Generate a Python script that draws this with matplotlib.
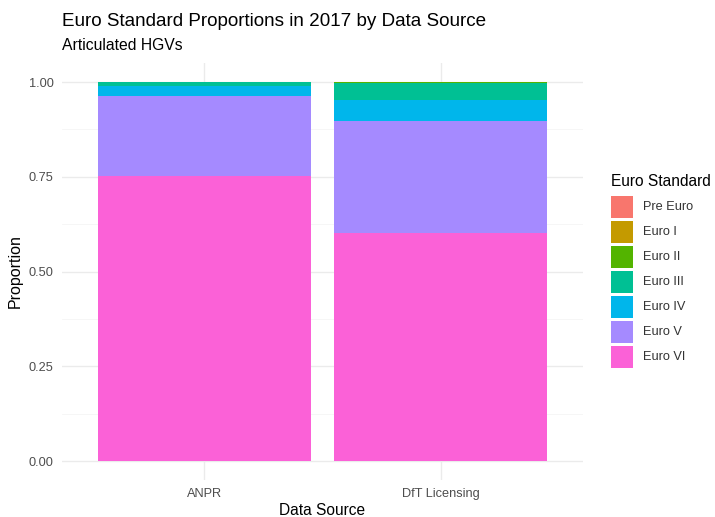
import numpy as np
import matplotlib.pyplot as plt
from matplotlib.patches import Rectangle

plt.rcParams['font.family'] = ['Liberation Sans', 'DejaVu Sans']

sources = ['ANPR', 'DfT Licensing']
standards = ['Pre Euro', 'Euro I', 'Euro II', 'Euro III', 'Euro IV', 'Euro V', 'Euro VI']
colors = ['#F8766D', '#C49A00', '#53B400', '#00C094', '#00B6EB', '#A58AFF', '#FB61D7']

# proportions per standard: [ANPR, DfT Licensing]
pre_euro = [0.000, 0.000]
euro_1 = [0.000, 0.001]
euro_2 = [0.001, 0.002]
euro_3 = [0.009, 0.045]
euro_4 = [0.027, 0.054]
euro_5 = [0.211, 0.296]
euro_6 = [0.752, 0.602]

values = np.array([pre_euro, euro_1, euro_2, euro_3, euro_4, euro_5, euro_6])

W, H = 715, 517
fig = plt.figure(figsize=(W / 100, H / 100), dpi=100)
ax = fig.add_axes([0.0867, 0.0716, 0.7287, 0.8064])

x = np.arange(1, len(sources) + 1)
bottom = np.zeros(len(sources))
# ggplot stacks last level at bottom
for i in range(len(standards) - 1, -1, -1):
    ax.bar(x, values[i], 0.9, bottom=bottom, color=colors[i], linewidth=0, zorder=2)
    bottom = bottom + values[i]

ax.set_xlim(0.4, 2.6)
ax.set_ylim(-0.05, 1.05)
ax.set_xticks(x)
ax.set_xticklabels(sources)
ax.set_yticks([0, 0.25, 0.5, 0.75, 1.0])
ax.set_yticklabels(['0.00', '0.25', '0.50', '0.75', '1.00'])
ax.set_yticks([0.125, 0.375, 0.625, 0.875], minor=True)
ax.grid(True, which='major', color='#EBEBEB', linewidth=1.0, zorder=0)
ax.grid(True, which='minor', axis='y', color='#F3F3F3', linewidth=0.5, zorder=0)
ax.tick_params(which='both', length=0, labelsize=9.2, labelcolor='#4D4D4D', pad=6)
for s in ax.spines.values():
    s.set_visible(False)

ax.set_xlabel('Data Source', fontsize=11.2, labelpad=2)
ax.set_ylabel('Proportion', fontsize=11.5, labelpad=4)

fig.text(62 / W, 1 - 22 / H, 'Euro Standard Proportions in 2017 by Data Source',
         fontsize=13.6, va='center', ha='left')
fig.text(62 / W, 1 - 46 / H, 'Articulated HGVs', fontsize=11.3, va='center', ha='left')

# legend drawn by hand to match ggplot key sizes
fig.text(611 / W, 1 - 182 / H, 'Euro Standard', fontsize=11.2, va='center', ha='left')
for i, (name, c) in enumerate(zip(standards, colors)):
    yc = 207 + 25 * i
    fig.add_artist(Rectangle((611 / W, 1 - (yc + 11) / H), 22 / W, 22 / H,
                             transform=fig.transFigure, facecolor=c, edgecolor='none'))
    fig.text(643 / W, 1 - yc / H, name, fontsize=9.2, color='#333333', va='center', ha='left')

fig.savefig('out.png', dpi=100)
